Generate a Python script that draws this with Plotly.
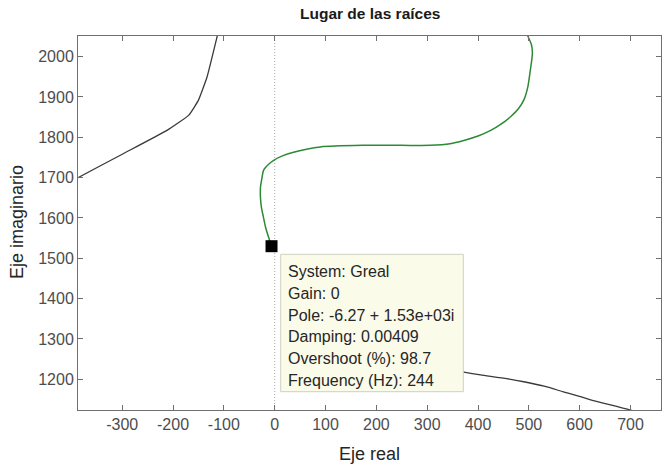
import plotly.graph_objects as go

# ---- data ----
branch_left_re = [-400, -387, -300, -212, -169, -150, -133, -113, -105]
branch_left_im = [1692, 1700, 1758, 1817, 1855, 1892, 1950, 2051, 2090]

branch_green_re = [-6.27, -12, -18, -22, -26, -28, -28, -25, -22, -12, -2, 15, 37, 90, 175, 250, 306, 345, 372, 400, 425, 446, 464, 479, 490, 498, 503, 507, 505, 498, 494]
branch_green_im = [1530, 1552, 1577, 1601, 1625, 1650, 1676, 1700, 1718, 1733, 1743, 1754, 1763, 1776, 1780, 1780, 1780, 1784, 1792, 1803, 1817, 1833, 1851, 1870, 1892, 1925, 1967, 2008, 2030, 2051, 2070]

branch_right_re = [300, 340, 372, 405, 450, 490, 530, 568, 620, 700, 720]
branch_right_im = [1228, 1224, 1218, 1211, 1203, 1194, 1183, 1169, 1150, 1124, 1116]

pole_re = [-6.27]
pole_im = [1530]

x_ticks = [-300, -200, -100, 0, 100, 200, 300, 400, 500, 600, 700]
y_ticks = [1200, 1300, 1400, 1500, 1600, 1700, 1800, 1900, 2000]

tooltip_lines = [
    "System: Greal",
    "Gain: 0",
    "Pole: -6.27 + 1.53e+03i",
    "Damping: 0.00409",
    "Overshoot (%): 98.7",
    "Frequency (Hz): 244",
]

# ---- layout geometry ----
W, H = 662, 466
L, R, T, B = 78, 1, 36, 56
PW, PH = W - L - R, H - T - B


def px(xp):
    return (xp - L) / PW


def py(yp):
    return (H - B - yp) / PH


FONT = "Arial, Liberation Sans, Helvetica, sans-serif"

fig = go.Figure()

fig.add_trace(go.Scatter(x=branch_left_re, y=branch_left_im, mode="lines",
                         line=dict(color="#3a3a3a", width=1.3, shape="spline", smoothing=0.4),
                         hoverinfo="skip", showlegend=False))
fig.add_trace(go.Scatter(x=branch_green_re, y=branch_green_im, mode="lines",
                         line=dict(color="#2b8a36", width=1.5, shape="spline", smoothing=0.7),
                         hoverinfo="skip", showlegend=False))
fig.add_trace(go.Scatter(x=branch_right_re, y=branch_right_im, mode="lines",
                         line=dict(color="#3a3a3a", width=1.3, shape="spline", smoothing=0.6),
                         hoverinfo="skip", showlegend=False))

# dotted imaginary axis
fig.add_shape(type="line", xref="x", yref="paper", x0=0, x1=0, y0=0, y1=1,
              line=dict(color="#a8a8a8", width=1, dash="1px,2px"), layer="below")

# data tip box
fig.add_shape(type="rect", xref="paper", yref="paper",
              x0=px(280.7), x1=px(463.3), y0=py(391.7), y1=py(254.3),
              fillcolor="#fbfbea", line=dict(color="#cfcfc2", width=1), layer="above")

line_y = [271.7, 293.5, 315, 336.7, 358.3, 380]
for txt, yc in zip(tooltip_lines, line_y):
    fig.add_annotation(text=txt, xref="paper", yref="paper", x=px(285.5), y=py(yc),
                       xanchor="left", yanchor="middle", showarrow=False,
                       font=dict(family=FONT, size=16, color="#262626"))

fig.add_trace(go.Scatter(x=pole_re, y=pole_im, mode="markers",
                         marker=dict(symbol="square", size=12, color="black"),
                         hoverinfo="skip", showlegend=False))

# titles
fig.add_annotation(text="<b>Lugar de las raíces</b>", xref="paper", yref="paper",
                   x=0.5, y=py(14), xanchor="center", yanchor="middle", showarrow=False,
                   font=dict(family=FONT, size=15.5, color="#1a1a1a"))
fig.add_annotation(text="Eje real", xref="paper", yref="paper",
                   x=0.5, y=py(454), xanchor="center", yanchor="middle", showarrow=False,
                   font=dict(family=FONT, size=18, color="#262626"))
fig.add_annotation(text="Eje imaginario", xref="paper", yref="paper",
                   x=px(17), y=py(222), xanchor="center", yanchor="middle", showarrow=False,
                   textangle=-90, font=dict(family=FONT, size=18, color="#262626"))

axis_common = dict(showgrid=False, zeroline=False, showline=True, linecolor="#707070",
                   linewidth=1, mirror="ticks", ticks="inside", ticklen=5,
                   tickcolor="#707070", tickwidth=1,
                   tickfont=dict(family=FONT, size=16, color="#4d4d4d"))

fig.update_xaxes(range=[-387, 760], tickvals=x_ticks, ticktext=[str(v) for v in x_ticks],
                 **axis_common)
fig.update_yaxes(range=[1124, 2051], tickvals=y_ticks, ticktext=[str(v) for v in y_ticks],
                 **axis_common)

fig.update_layout(width=W, height=H, margin=dict(l=L, r=R, t=T, b=B, pad=0),
                  plot_bgcolor="white", paper_bgcolor="white", showlegend=False,
                  font=dict(family=FONT))

fig.write_html("out.html")
